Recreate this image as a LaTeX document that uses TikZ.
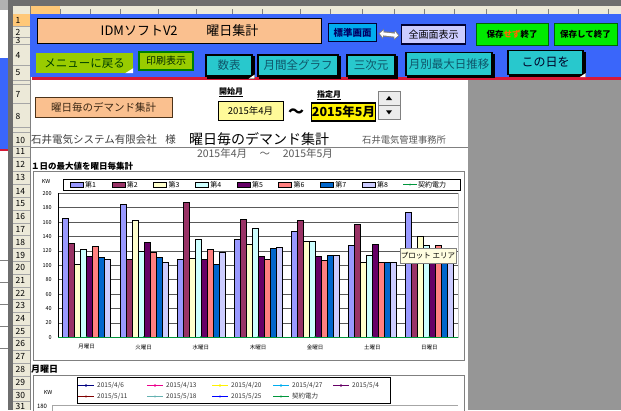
\documentclass[tikz,border=0pt]{standalone}
\usepackage{fontspec}
\setmainfont{Noto Sans CJK JP}
\usetikzlibrary{positioning,arrows.meta}

\definecolor{xlblue}{RGB}{58,102,250}
\definecolor{xlred}{RGB}{215,25,55}
\definecolor{peach}{RGB}{250,192,143}
\definecolor{tealbtn}{RGB}{40,200,205}
\definecolor{tealtxt}{RGB}{15,85,105}
\definecolor{limebtn}{RGB}{153,204,0}
\definecolor{hdrgray}{RGB}{236,233,216}
\definecolor{framegray}{RGB}{110,110,110}
\definecolor{deskgray}{RGB}{150,150,150}
\definecolor{selorange}{RGB}{255,200,120}
\definecolor{ser0}{RGB}{153,153,255}
\definecolor{ser1}{RGB}{153,51,102}
\definecolor{ser2}{RGB}{255,255,204}
\definecolor{ser3}{RGB}{204,255,255}
\definecolor{ser4}{RGB}{102,0,102}
\definecolor{ser5}{RGB}{255,128,128}
\definecolor{ser6}{RGB}{0,102,204}
\definecolor{ser7}{RGB}{204,204,255}
\definecolor{keiyaku}{RGB}{0,150,60}

\tikzset{
  sz/.style={font=\fontsize{#1}{#1}\selectfont},
  tealbox/.style={draw=black, line width=1.2pt, fill=tealbtn, text=tealtxt, sz=11.5,
    preaction={fill=black, draw=black, transform canvas={xshift=2pt, yshift=-2pt}}},
  greenbox/.style={draw=black!60!green, line width=0.9pt, fill=green!92!black, sz=8.5},
  cellbox/.style={draw=black, line width=0.7pt},
  tiny/.style={sz=5.5},
  bar/.style={draw=black, line width=0.3pt},
  rowno/.style={sz=8.5},
}

\begin{document}
\begin{tikzpicture}[x=1pt,y=-1pt,every node/.style={inner sep=0pt}]
\useasboundingbox (0,0) rectangle (621,410);
% window frame
\fill[white] (0,0) rectangle (621,410);
\fill[gray!60] (0,0) rectangle (8,10);
\fill[xlblue] (0,58) rectangle (8,150);
\fill[xlred] (0,149) rectangle (8,151);
\draw[gray] (0,260) -- (8,260) (0,282) -- (8,282) (0,304) -- (8,304) (0,326) -- (8,326) (0,348) -- (8,348);
\fill[framegray] (8,0) rectangle (621,6);
\fill[framegray] (8,0) rectangle (13,410);
\fill[hdrgray] (13,6) rectangle (621,14);
\fill[selorange] (30,6) rectangle (60,14);
\foreach \x in {60,90,120,158,196,232,262,300,330,362,394,424,454,486,516,548,578,608}
  \draw[gray] (\x,9) -- (\x,14);
\fill[hdrgray] (13,14) rectangle (30,410);
\fill[selorange] (13,14) rectangle (30,26);
\draw[gray] (30,6) -- (30,410);
\foreach \y in {26,37,44,65,80,84,103,127,132,146,157,171,184,197,210,223,235,248,261,274,287,299,312,325,337,350,363,376,389,401}
  \draw[gray!70] (13,\y) -- (30,\y);
% row numbers
\foreach \n/\y in {1/20,2/32,3/40,4/55,5/73,7/94,8/116,10/140,11/151,12/164,13/177,14/191,15/204,16/216,17/229,18/242,19/255,20/267,21/280,22/293,23/305,24/318,25/331,26/343,27/356,28/369,29/382,30/395,31/406}
  \node[rowno, anchor=west] (r\n) at (15.5,\y) {\n};

% button area
\fill[xlblue] (30,14) rectangle (621,77);
\fill[xlred] (32,77) rectangle (621,79.5);
\fill[deskgray] (468,80) rectangle (621,410);

\node[draw=black, line width=1.6pt, fill=peach, minimum width=284pt, minimum height=25pt, sz=13] (title) at (179.5,31) {IDMソフトV2\hspace{2.2em}曜日集計};
\node[draw=black!80!blue, line width=0.9pt, fill=cyan, minimum width=48pt, minimum height=18pt, sz=9.5, text=blue!40!black] (std) at (352.5,32.5) {\bfseries 標準画面};
\node[draw=black!80!blue, line width=1.2pt, fill=blue!20, minimum width=64pt, minimum height=19pt, sz=10] (full) at (433.5,34.5) {全画面表示};
\draw[gray, line width=5.5pt, {Triangle[length=5pt,width=10pt]}-{Triangle[length=5pt,width=10pt]}] (std.east) ++(1.5,1) -- ([xshift=-1.5pt,yshift=-1pt]full.west);
\draw[white, line width=3pt, {Triangle[length=3.5pt,width=7pt]}-{Triangle[length=3.5pt,width=7pt]}] (std.east) ++(2.8,1) -- ([xshift=-2.8pt,yshift=-1pt]full.west);
\node[greenbox, minimum width=72pt, minimum height=22pt] (nosave) at (512,34) {\bfseries 保存\textcolor{orange!80!red}{せず}終了};
\node[greenbox, minimum width=63pt, minimum height=22pt] (save) at (585.5,34) {\bfseries 保存して終了};

\node[fill=limebtn, minimum width=97pt, minimum height=20pt, sz=11.5, text=black!75!green] (menu) at (84.5,63) {メニューに戻る};
\fill[white] (menu.south east) -- ++(-8,0) -- ++(8,-5) -- cycle;
\node[draw=black!50!green, line width=1.2pt, fill=limebtn, minimum width=54pt, minimum height=18pt, sz=10, text=black!85!green] (print) at (166,61) {印刷表示};
\node[tealbox, minimum width=46pt, minimum height=21pt] (table) at (229,65.5) {数表};
\node[tealbox, minimum width=80pt, minimum height=21pt] (monthly) at (298,65.5) {月間全グラフ};
\node[tealbox, minimum width=48pt, minimum height=21pt] (cube) at (371,65.5) {三次元};
\node[tealbox, minimum width=86pt, minimum height=23pt] (trend) at (449,64) {月別最大日推移};
\node[tealbox, minimum width=75pt, minimum height=24pt, sz=12, text=black!85!blue] (thisday) at (545.5,62.5) {この日を};
\fill[white] (thisday.south east) ++(2,2) -- ++(-6,0) -- ++(6,-4) -- cycle;
\fill[white] (table.south east) ++(2,2) -- ++(-6,0) -- ++(6,-4) -- cycle;

% sheet header
\node[draw=black!60!brown, line width=0.8pt, fill=peach, minimum width=137pt, minimum height=20pt, sz=10.5, text=black!70!brown] (demand) at (103.5,107) {曜日毎のデマンド集計};
\node[sz=8] (startlbl) at (231,92) {\bfseries\underline{開始月}};
\node[cellbox, fill=yellow!40, minimum width=65pt, minimum height=19pt, sz=9.5] (start) at (250.5,110.5) {2015年4月};
\node[sz=16] (tilde) at (296,113) {\bfseries ～};
\node[sz=8] (endlbl) at (329,95) {\bfseries\underline{指定月}};
\node[draw=black, line width=1.5pt, fill=yellow, minimum width=64pt, minimum height=18pt, sz=12.5] (end) at (343.5,112) {\bfseries 2015年5月};
\node[draw=gray, fill=gray!15, minimum width=22pt, minimum height=14pt] (spinup) at (389,98) {};
\node[draw=gray, fill=gray!15, minimum width=22pt, minimum height=14pt, below=0pt of spinup] (spindn) {};
\fill[black] ([yshift=-2pt]spinup.center) -- ++(3,0) -- ++(-3,-4) -- ++(-3,4) -- cycle;
\fill[black] ([yshift=2pt]spindn.center) -- ++(3,0) -- ++(-3,4) -- ++(-3,-4) -- cycle;

\node[sz=10.5, text=black!75, anchor=west] (client) at (31,140) {石井電気システム有限会社\hspace{0.8em}様};
\node[sz=14, anchor=west] (heading) at (189,139) {曜日毎のデマンド集計};
\node[sz=9.3, text=black!65, anchor=west] (office) at (362,140) {石井電気管理事務所};
\draw[gray] (30,147) -- (468,147);
\node[sz=10.5, text=black!65] (period) at (265,153) {2015年4月\hspace{1.2em}～\hspace{1.2em}2015年5月};
\node[sz=8.5, anchor=west] (chart1ttl) at (31,166) {\bfseries １日の最大値を曜日毎集計};

% chart 1
\draw[gray] (33,171) rectangle (464,360);
\node[tiny] (kw1) at (46,181) {KW};
\draw[black, line width=0.5pt] (63,179) rectangle (460,190.5);
\foreach \i in {0,...,7} {
  \draw[bar, fill=ser\i] ({70+41.7*\i},181.8) rectangle ({83+41.7*\i},187.5);
  \pgfmathtruncatemacro{\k}{\i+1}
  \node[sz=7, anchor=west] (leg\k) at ({85+41.7*\i},184.6) {第\k};
}
\draw[keiyaku, line width=0.7pt] (403,184.6) -- (417,184.6);
\fill[keiyaku] (410,184.6) circle (1.1pt);
\node[sz=7, anchor=west] (legk) at (418,184.6) {契約電力};

\draw[gray!50] (58,193) rectangle (458,337.3);
\foreach \v in {20,40,...,200}
  \draw[gray!70!black, line width=0.5pt] (58,{337.3-0.72*\v}) -- (458,{337.3-0.72*\v});
\foreach \v in {0,20,...,200}
  \node[tiny, anchor=east] (yl\v) at (52,{337.3-0.72*\v}) {\v};
\foreach \c/\vals in {0/{166,131,102,122,113,127,112,108},
                      1/{185,108,163,120,132,118,112,105},
                      2/{108,188,110,136,109,122,102,118},
                      3/{136,164,130,152,113,109,124,125},
                      4/{148,163,134,134,113,107,114,114},
                      5/{128,157,105,114,129,105,105,105},
                      6/{174,112,140,128,112,128,112,112}}
  \foreach \v [count=\s from 0] in \vals
    \draw[bar, fill=ser\s] ({62.57+57.143*\c+6*\s},337.3) rectangle ({68.57+57.143*\c+6*\s},{337.3-0.72*\v});
\draw[black, line width=0.5pt] (58,193) -- (58,337.3) -- (458,337.3);
\draw[keiyaku, line width=0.7pt] (58,337) -- (458,337);
\foreach \c/\d in {0/月曜日,1/火曜日,2/水曜日,3/木曜日,4/金曜日,5/土曜日,6/日曜日} {
  \fill[keiyaku] ({86.6+57.143*\c},337) circle (1pt);
  \node[tiny] (cat\c) at ({86.6+57.143*\c},347) {\d};
}
\node[draw=gray, fill=yellow!12, minimum width=56pt, minimum height=15pt, sz=7.5] (tip) at (428,255.5) {プロット エリア};

% chart 2
\node[sz=9, anchor=west] (chart2ttl) at (31,369) {\bfseries 月曜日};
\draw[gray] (33,375) rectangle (464,415);
\draw[black, line width=0.5pt] (77,377) rectangle (390,403);
\foreach \x/\col/\d [count=\j] in {78/blue!50!black/{2015/4/6}, 147/magenta/{2015/4/13}, 212/yellow/{2015/4/20}, 273/cyan/{2015/4/27}, 333/violet!80!black/{2015/5/4}} {
  \draw[\col, line width=0.8pt] (\x,385.5) -- ++(16,0);
  \fill[\col] (\x+8,385.5) circle (1.4pt);
  \node[sz=6.5, anchor=west, text=black!80] (dA\j) at (\x+19,385.5) {\d};
}
\foreach \x/\col/\d [count=\j] in {78/red!50!black/{2015/5/11}, 147/teal!60/{2015/5/18}, 212/blue/{2015/5/25}, 273/keiyaku/契約電力} {
  \draw[\col, line width=0.8pt] (\x,396.5) -- ++(16,0);
  \fill[\col] (\x+8,396.5) circle (1.2pt);
  \node[sz=6.5, anchor=west, text=black!80] (dB\j) at (\x+19,396.5) {\d};
}
\node[tiny] (kw2) at (48,392) {KW};
\node[sz=6] (y180) at (42,406) {180};
\draw[gray!70] (52,415) -- (52,405) -- (458,405);
\end{tikzpicture}
\end{document}
